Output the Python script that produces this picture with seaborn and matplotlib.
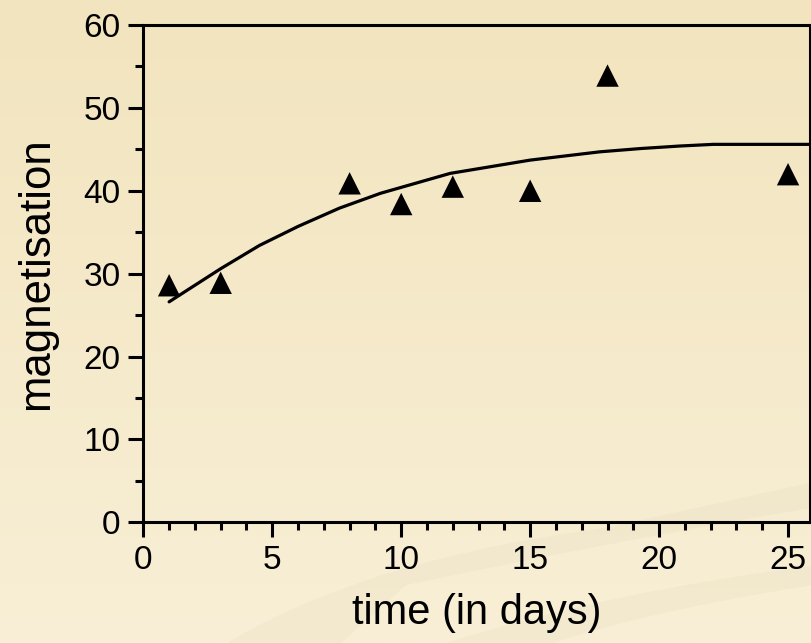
import numpy as np
import pandas as pd
import matplotlib
matplotlib.use("Agg")
import matplotlib.pyplot as plt
from matplotlib.patches import PathPatch
from matplotlib.path import Path
import seaborn as sns

# Measured points
time_days = [1, 3, 8, 10, 12, 15, 18, 25]
magnetisation = [28.6, 28.9, 40.9, 38.4, 40.5, 40.0, 53.9, 42.0]

# Fitted curve
fit_time = [1, 3, 4.5, 6, 7.6, 9.2, 11.9, 15, 17.7, 19.3, 20.8, 22.1, 26]
fit_mag = [26.6, 30.6, 33.4, 35.7, 37.9, 39.7, 42.1, 43.7, 44.7, 45.1, 45.4, 45.6, 45.6]

x_ticks = [0, 5, 10, 15, 20, 25]
y_ticks = [0, 10, 20, 30, 40, 50, 60]

sns.set_style("ticks")
plt.rcParams['font.family'] = ['Liberation Sans', 'DejaVu Sans']
plt.rcParams['text.color'] = 'black'
plt.rcParams['axes.labelcolor'] = 'black'

fig = plt.figure(figsize=(8.12, 6.43), dpi=100)

# background gradient
bg = fig.add_axes([0, 0, 1, 1], zorder=-10)
grad = np.linspace(0, 1, 256)[:, None]
top = np.array([242, 228, 190]) / 255
bot = np.array([248, 239, 214]) / 255
img = top[None, None, :] * (1 - grad[:, :, None]) + bot[None, None, :] * grad[:, :, None]
bg.imshow(img, aspect='auto', extent=[0, 1, 0, 1], origin='upper')
swoosh_col = (0.93, 0.89, 0.78)
verts = [(0.28, 0.0), (0.45, 0.13), (0.75, 0.18), (1.0, 0.25), (1.0, 0.21), (0.72, 0.15), (0.5, 0.09), (0.42, 0.0), (0.28, 0.0)]
codes = [Path.MOVETO, Path.CURVE3, Path.CURVE3, Path.LINETO, Path.LINETO, Path.CURVE3, Path.CURVE3, Path.LINETO, Path.CLOSEPOLY]
bg.add_patch(PathPatch(Path(verts, codes), facecolor=swoosh_col, edgecolor='none', alpha=0.45))
verts2 = [(0.55, 0.0), (0.75, 0.08), (1.0, 0.12), (1.0, 0.09), (0.8, 0.05), (0.68, 0.0), (0.55, 0.0)]
codes2 = [Path.MOVETO, Path.CURVE3, Path.CURVE3, Path.LINETO, Path.CURVE3, Path.CURVE3, Path.CLOSEPOLY]
bg.add_patch(PathPatch(Path(verts2, codes2), facecolor=swoosh_col, edgecolor='none', alpha=0.45))
bg.set_xlim(0, 1); bg.set_ylim(0, 1); bg.axis('off')

ax = fig.add_axes([0.1765, 0.1877, 0.8210, 0.7734])
ax.set_facecolor('none')

fit_df = pd.DataFrame({'t': fit_time, 'm': fit_mag})
pts_df = pd.DataFrame({'t': time_days, 'm': magnetisation})
sns.lineplot(data=fit_df, x='t', y='m', ax=ax, color='black', linewidth=2.3, sort=True)
sns.scatterplot(data=pts_df, x='t', y='m', ax=ax, marker='^', s=260, color='black', edgecolor='none', zorder=5)

ax.set_xlim(0, 25.85)
ax.set_ylim(0, 60)
ax.set_xticks(x_ticks)
ax.set_yticks(y_ticks)
ax.set_xticks(np.arange(0, 26, 1), minor=True)
ax.set_yticks(np.arange(0, 61, 5), minor=True)
ax.set_xticklabels([str(v) for v in x_ticks])
ax.set_yticklabels([str(v) for v in y_ticks])
for s in ax.spines.values():
    s.set_linewidth(2.2)
    s.set_color('black')
ax.tick_params(which='major', direction='out', length=10.5, width=2.2, labelsize=24, pad=6, colors='black')
ax.tick_params(which='minor', direction='out', length=6, width=2.2, colors='black')
ax.tick_params(top=False, right=False, which='both')
ax.set_xlabel('time (in days)', fontsize=30, labelpad=12)
ax.set_ylabel('magnetisation', fontsize=31.5, labelpad=19)

fig.savefig('out.png', dpi=100)
